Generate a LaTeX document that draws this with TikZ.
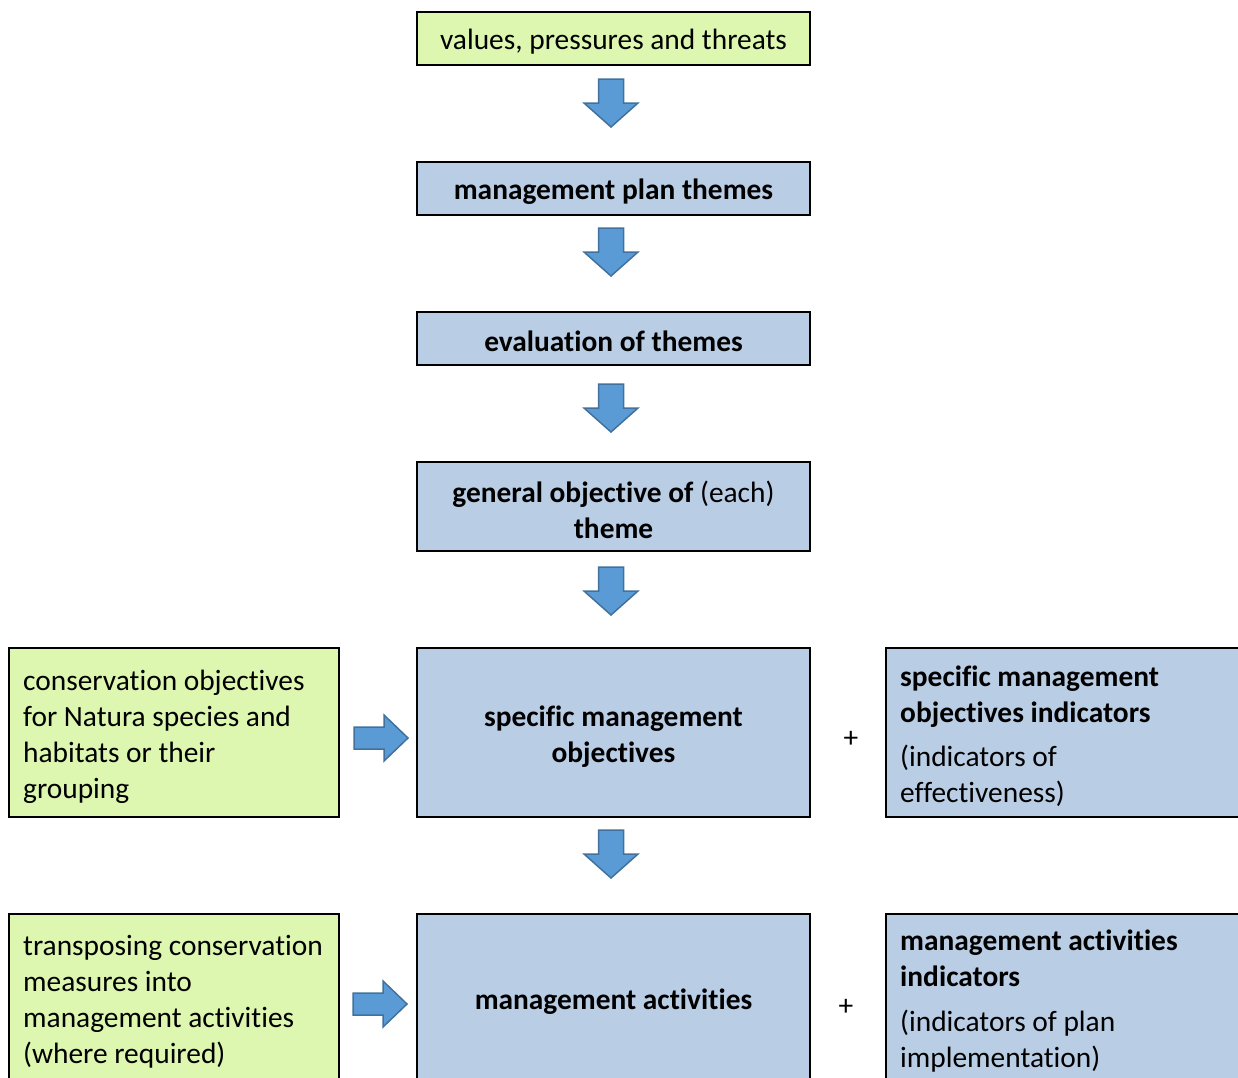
\documentclass[tikz,border=0pt]{standalone}
\usepackage{fontspec}
\setmainfont{Carlito}[Ligatures={NoCommon}]
\definecolor{boxgreen}{RGB}{221,246,176}
\definecolor{boxblue}{RGB}{185,205,229}
\definecolor{arrowfill}{RGB}{91,155,213}
\definecolor{arrowline}{RGB}{65,113,156}
\begin{document}
\begin{tikzpicture}[x=1pt,y=-1pt,
  box/.style={draw=black,line width=2pt,inner sep=0pt},
  greenbox/.style={box,fill=boxgreen},
  bluebox/.style={box,fill=boxblue},
  txt/.style={inner sep=0pt,align=left,font=\fontsize{29.4}{36}\selectfont},
  ctxt/.style={inner sep=0pt,align=center,font=\fontsize{29.4}{36}\selectfont},
  darrow/.pic={\draw[fill=arrowfill,draw=arrowline,line width=1.5pt,line join=miter]
    (-12.5,0)--(-12.5,24)--(-27,24)--(0,48)--(27,24)--(12.5,24)--(12.5,0)--cycle;},
  rarrow/.pic={\draw[fill=arrowfill,draw=arrowline,line width=1.5pt,line join=miter]
    (0,-11)--(30,-11)--(30,-23)--(54,0)--(30,23)--(30,11)--(0,11)--cycle;}
]
\useasboundingbox (0,0) rectangle (1238,1077);
\clip (0,0) rectangle (1238,1077);

% central column
\node[greenbox,minimum width=393pt,minimum height=53pt] (vpt) at (613.5,38.5) {};
\node[ctxt] (vpttxt) at (613.5,41.5) {values, pressures and threats};
\node[bluebox,minimum width=393pt,minimum height=53pt] (mpt) at (613.5,188.5) {};
\node[ctxt] (mpttxt) at (613.5,191.5) {\textbf{management plan themes}};
\node[bluebox,minimum width=393pt,minimum height=53pt] (evt) at (613.5,338.5) {};
\node[ctxt] (evttxt) at (613.5,341.5) {\textbf{evaluation of themes}};
\node[bluebox,minimum width=393pt,minimum height=89pt] (gen) at (613.5,506.5) {};
\node[ctxt] (gentxt) at (613.5,509.5) {\textbf{general objective of} (each)\\\textbf{theme}};
\node[bluebox,minimum width=393pt,minimum height=169pt] (smo) at (613.5,732.5) {};
\node[ctxt] (smotxt) at (613.5,736.5) {\textbf{specific management}\\\textbf{objectives}};
\node[bluebox,minimum width=393pt,minimum height=170pt] (mac) at (613.5,999) {};
\node[ctxt] (mactxt) at (613.5,1002) {\textbf{management activities}};

% left column
\node[greenbox,minimum width=330pt,minimum height=169pt] (cons) at (174,732.5) {};
\node[txt,anchor=west] (constxt) at (23,736.5) {conservation objectives\\for Natura species and\\habitats or their\\grouping};
\node[greenbox,minimum width=330pt,minimum height=170pt] (trans) at (174,999) {};
\node[txt,anchor=west] (transtxt) at (23,1002) {transposing conservation\\measures into\\management activities\\(where required)};

% right column
\node[bluebox,minimum width=360pt,minimum height=169pt] (smoi) at (1066,732.5) {};
\node[txt,anchor=west] (smoitxt) at (900,736.5) {\textbf{specific management}\\\textbf{objectives indicators}\\[8pt](indicators of\\effectiveness)};
\node[bluebox,minimum width=360pt,minimum height=170pt] (maci) at (1066,999) {};
\node[txt,anchor=west] (macitxt) at (900,1001.5) {\textbf{management activities}\\\textbf{indicators}\\[9pt](indicators of plan\\implementation)};

% plus signs
\node[inner sep=0pt,font=\fontsize{29.4}{36}\selectfont] (plus1) at (851,739) {+};
\node[inner sep=0pt,font=\fontsize{29.4}{36}\selectfont] (plus2) at (846,1007) {+};

% block arrows
\pic at (611,79) {darrow};
\pic at (611,228) {darrow};
\pic at (611,384) {darrow};
\pic at (611,567) {darrow};
\pic at (611,830) {darrow};
\pic at (354,738) {rarrow};
\pic at (353,1004) {rarrow};
\end{tikzpicture}
\end{document}
